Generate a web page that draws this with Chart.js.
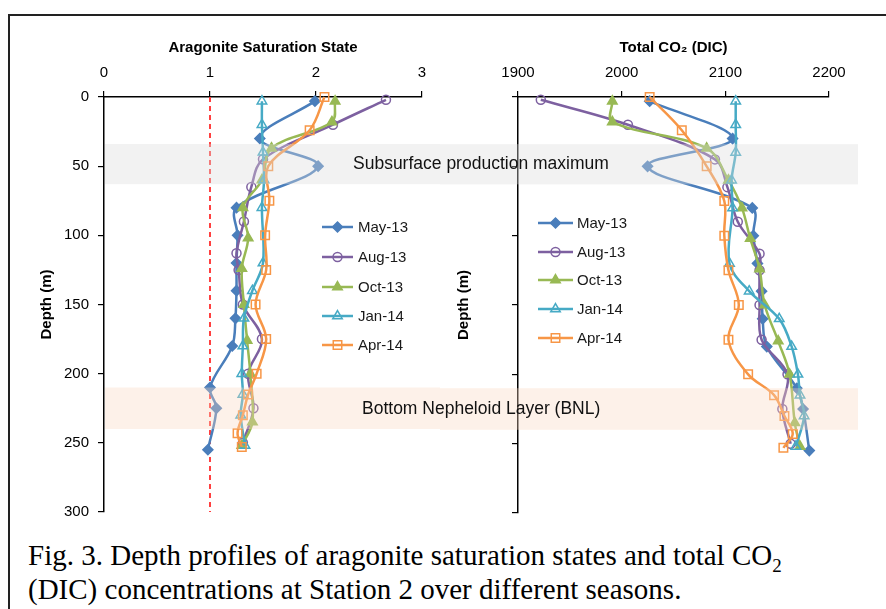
<!DOCTYPE html>
<html>
<head>
<meta charset="utf-8">
<script src="https://cdn.jsdelivr.net/npm/chart.js@4.4.0/dist/chart.umd.min.js"></script>
<style>
  body { margin: 0; width: 886px; height: 609px; overflow: hidden; background: #fff; position: relative;
         font-family: "Liberation Sans", Arial, sans-serif; }
  #frame { position: absolute; left: 8px; top: 14px; width: 1000px; height: 700px; border: 2px solid #222; }
  #c1 { position: absolute; left: 0; top: 0; }
  #c2 { position: absolute; left: 440px; top: 0; }
  .band-label { position: absolute; font-size: 17.5px; line-height: 20px; color: #111; white-space: nowrap; }
  #caption { position: absolute; left: 28px; top: 538px; font-family: "Liberation Serif", "Times New Roman", serif;
             font-size: 29px; line-height: 34px; color: #000; white-space: nowrap; }
  #caption sub { font-size: 19px; line-height: 0; }
</style>
</head>
<body>
<div id="frame"></div>
<canvas id="c1" width="440" height="530"></canvas>
<canvas id="c2" width="446" height="530"></canvas>
<div class="band-label" style="left:353px; top:153px;">Subsurface production maximum</div>
<div class="band-label" style="left:362px; top:398px;">Bottom Nepheloid Layer (BNL)</div>
<div id="caption">Fig. 3. Depth profiles of aragonite saturation states and total CO<sub>2</sub><br>(DIC) concentrations at Station 2 over different seasons.</div>
<script>
// seasons
const seasons = ["May-13", "Aug-13", "Oct-13", "Jan-14", "Apr-14"];

// depth (m) of each sample, per season
const depthMay = [3, 30, 50, 80, 100, 120, 140, 160, 180, 210, 225, 255];
const depthAug = [2, 20, 45, 65, 90, 113, 125, 150, 175, 200, 225, 250];
const depthOct = [3, 18, 37, 60, 80, 102, 124, 150, 176, 200, 235, 252];
const depthJan = [3, 20, 40, 60, 80, 120, 140, 160, 180, 200, 215, 230, 252];
const depthApr = [0, 24, 50, 75, 100, 125, 150, 175, 200, 215, 230, 243, 253];

// aragonite saturation state
const omegaMay = [1.99, 1.47, 2.02, 1.25, 1.26, 1.25, 1.25, 1.24, 1.21, 1.00, 1.06, 0.98];
const omegaAug = [2.66, 2.16, 1.50, 1.39, 1.32, 1.25, 1.27, 1.31, 1.49, 1.36, 1.41, 1.31];
const omegaOct = [2.18, 2.15, 1.58, 1.49, 1.31, 1.36, 1.30, 1.32, 1.35, 1.38, 1.40, 1.30];
const omegaJan = [1.49, 1.49, 1.50, 1.51, 1.49, 1.50, 1.40, 1.32, 1.31, 1.30, 1.31, 1.29, 1.33];
const omegaApr = [2.08, 1.94, 1.55, 1.56, 1.52, 1.53, 1.43, 1.53, 1.44, 1.36, 1.31, 1.26, 1.30];

// total CO2 (DIC)
const dicMay = [2027, 2107, 2025, 2126, 2127, 2131, 2135, 2136, 2140, 2169, 2175, 2181];
const dicAug = [1922, 2006, 2090, 2102, 2112, 2133, 2133, 2133, 2135, 2160, 2155, 2163];
const dicOct = [1991, 1991, 2082, 2103, 2116, 2124, 2133, 2138, 2151, 2162, 2167, 2172];
const dicJan = [2110, 2110, 2110, 2106, 2107, 2104, 2123, 2152, 2164, 2170, 2172, 2176, 2168];
const dicApr = [2027, 2058, 2082, 2099, 2099, 2103, 2113, 2103, 2122, 2147, 2157, 2165, 2156];

// saturation = 1 reference line
const refOmega = [1, 1];
const refDepth = [0, 300];

// shaded layers (depth range)
const bandFrom = [34, 210];
const bandTo = [63, 240];

const depths = [depthMay, depthAug, depthOct, depthJan, depthApr];
const omegas = [omegaMay, omegaAug, omegaOct, omegaJan, omegaApr];
const dics = [dicMay, dicAug, dicOct, dicJan, dicApr];

const colors = ["#4a7ebb", "#7d60a0", "#98b954", "#46aac5", "#f79646"];
const markers = ["rectRot", "circle", "triangle", "triangle", "rect"];
const filled = [true, false, true, false, false];
const radii = [5, 4.5, 5.5, 5.5, 6];
const bandColors = ["rgba(219,219,219,0.37)", "rgba(249,215,192,0.35)"];

Chart.defaults.font.family = '"Liberation Sans", Arial, sans-serif';
Chart.defaults.color = "#000";

function pts(xs, ys) {
  return ys.map((d, i) => ({ x: xs[i], y: d }));
}

function buildDatasets(values) {
  const ds = seasons.map((name, i) => ({
    label: name,
    data: pts(values[i], depths[i]),
    borderColor: colors[i],
    backgroundColor: filled[i] ? colors[i] : "rgba(0,0,0,0)",
    pointBorderColor: colors[i],
    pointBackgroundColor: filled[i] ? colors[i] : "rgba(0,0,0,0)",
    pointStyle: markers[i],
    pointRadius: radii[i],
    pointBorderWidth: 1.5,
    borderWidth: 2.5,
    showLine: true,
    tension: 0.35,
    clip: false,
    order: 5 - i
  }));
  return ds;
}

// draws the shaded layers over the lines
const bandPlugin = {
  id: "bands",
  afterDatasetsDraw(chart, args, opts) {
    const { ctx, chartArea } = chart;
    const y = chart.scales.y;
    const x0 = opts.side === "left" ? chartArea.left + 1 : 0;
    const x1 = opts.side === "left" ? chart.width : chartArea.right + 29;
    ctx.save();
    bandFrom.forEach((from, i) => {
      const top = y.getPixelForValue(from);
      const bot = y.getPixelForValue(bandTo[i]);
      ctx.fillStyle = bandColors[i];
      ctx.fillRect(x0, top, x1 - x0, bot - top);
    });
    ctx.restore();
  }
};

// legend inside the plot
const legendPlugin = {
  id: "innerLegend",
  afterDraw(chart, args, opts) {
    const ctx = chart.ctx;
    ctx.save();
    seasons.forEach((name, i) => {
      const yy = opts.ys[i];
      ctx.strokeStyle = colors[i];
      ctx.lineWidth = 2.5;
      ctx.beginPath();
      ctx.moveTo(opts.x0, yy);
      ctx.lineTo(opts.x1, yy);
      ctx.stroke();
      ctx.fillStyle = filled[i] ? colors[i] : "rgba(0,0,0,0)";
      ctx.lineWidth = 1.5;
      Chart.helpers.drawPoint(ctx, { pointStyle: markers[i], radius: radii[i], rotation: 0, borderWidth: 1.5 },
        (opts.x0 + opts.x1) / 2, yy);
      ctx.fillStyle = "#1a1a1a";
      ctx.font = '15px "Liberation Sans", Arial, sans-serif';
      ctx.textBaseline = "middle";
      ctx.fillText(name, opts.tx, yy + 1);
    });
    ctx.restore();
  }
};

function makeOptions(cfg) {
  return {
    responsive: false,
    animation: false,
    layout: { padding: { left: 0, top: 0, right: cfg.padRight, bottom: 17 } },
    plugins: {
      legend: { display: false },
      tooltip: { enabled: false },
      bands: { side: cfg.side },
      innerLegend: cfg.legend
    },
    scales: {
      x: {
        type: "linear",
        position: "top",
        min: cfg.xmin,
        max: cfg.xmax,
        ticks: { stepSize: cfg.step, font: { size: 15 }, padding: 9, color: "#000", callback: v => String(v) },
        grid: { drawOnChartArea: false, drawTicks: true, tickLength: 6, color: "#000", lineWidth: 1.2 },
        border: { display: true, color: "#000", width: 1.5 },
        title: { display: true, text: cfg.title, font: { size: 15, weight: "bold" }, color: "#000",
                 padding: { top: 39, bottom: 0 } },
        afterFit: s => { s.height = 97; }
      },
      y: {
        type: "linear",
        position: "left",
        reverse: true,
        min: 0,
        max: 300,
        ticks: { stepSize: 50, display: cfg.yLabels, font: { size: 15 }, padding: 9, color: "#000" },
        grid: { drawOnChartArea: false, drawTicks: true, tickLength: 6, color: "#000", lineWidth: 1.2 },
        border: { display: true, color: "#000", width: 1.5 },
        title: { display: true, text: "Depth (m)", font: { size: 15, weight: "bold" }, color: "#000",
                 padding: { top: cfg.yTitlePad, bottom: 0 } },
        afterFit: s => { s.width = cfg.yWidth; }
      }
    }
  };
}

const refLine = {
  label: "ref",
  data: pts(refOmega, refDepth),
  borderColor: "#ff4040",
  borderDash: [5, 4],
  borderWidth: 2,
  pointRadius: 0,
  showLine: true,
  tension: 0,
  order: 10
};

new Chart(document.getElementById("c1"), {
  type: "scatter",
  data: { datasets: buildDatasets(omegas).concat([refLine]) },
  options: makeOptions({
    side: "left", padRight: 18, xmin: 0, xmax: 3, step: 1, title: "Aragonite Saturation State",
    yLabels: true, yTitlePad: 38, yWidth: 104,
    legend: { x0: 322, x1: 353, tx: 358, ys: [227, 257, 287, 316, 345] }
  }),
  plugins: [bandPlugin, legendPlugin]
});

new Chart(document.getElementById("c2"), {
  type: "scatter",
  data: { datasets: buildDatasets(dics) },
  options: makeOptions({
    side: "right", padRight: 57, xmin: 1900, xmax: 2200, step: 100, title: "Total CO\u2082 (DIC)",
    yLabels: false, yTitlePad: 15, yWidth: 78,
    legend: { x0: 98, x1: 133, tx: 137, ys: [223, 252, 280, 309, 338] }
  }),
  plugins: [bandPlugin, legendPlugin]
});
</script>
</body>
</html>
